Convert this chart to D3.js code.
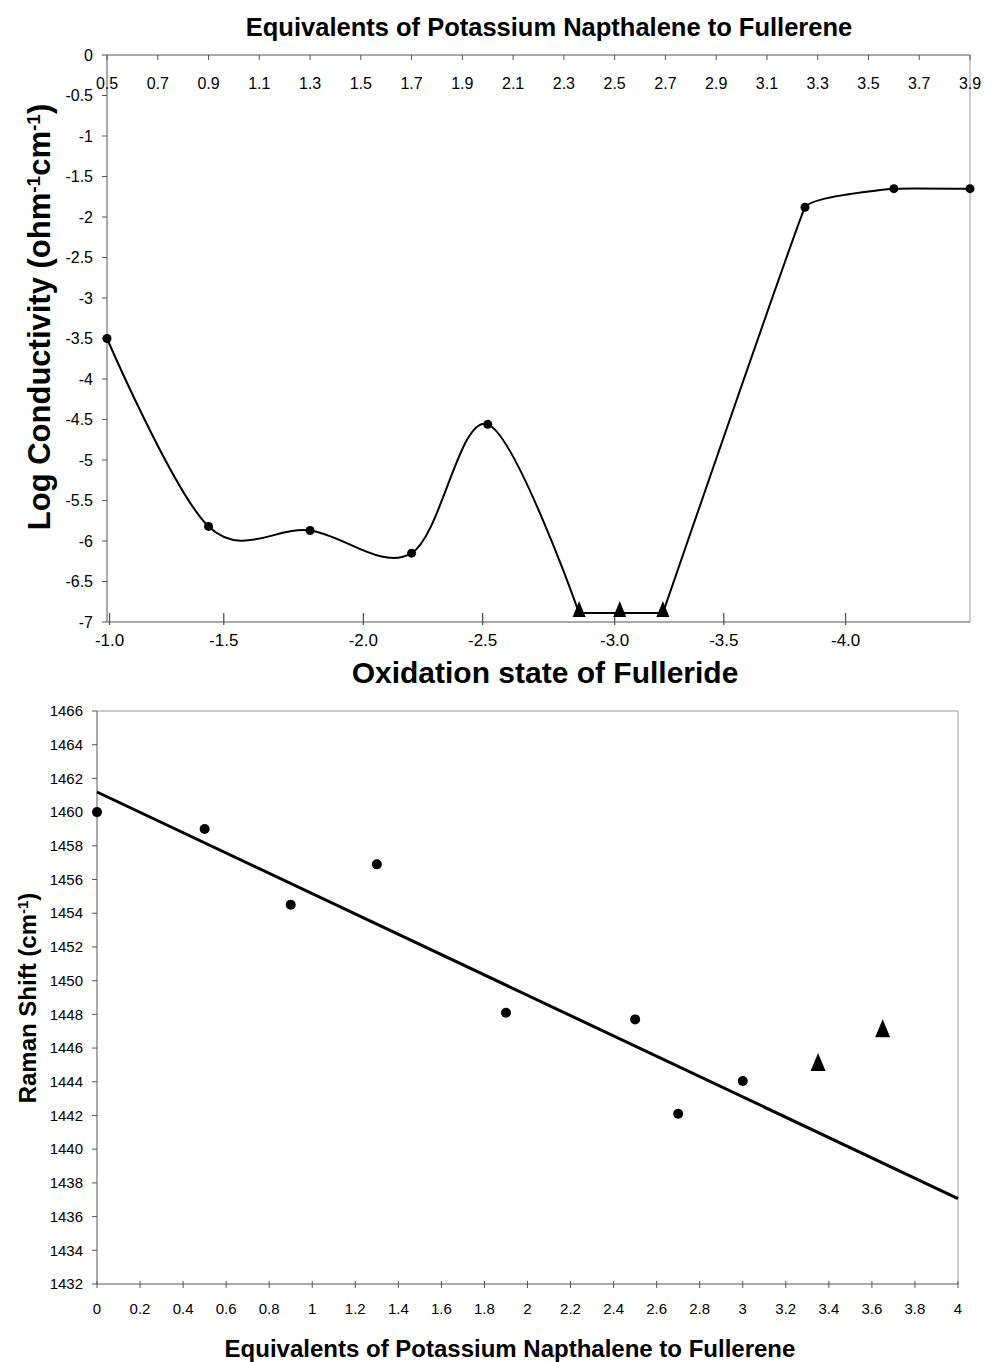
<!DOCTYPE html>
<html>
<head>
<meta charset="utf-8">
<script src="https://cdn.jsdelivr.net/npm/d3@7"></script>
<style>
  body { margin: 0; background: #fff; }
  svg { display: block; font-family: "Liberation Sans", Arial, sans-serif; }
</style>
</head>
<body>
<svg id="fig" width="985" height="1362"></svg>
<script>
// conductivity vs. equivalents (top panel)
var condEquiv = [0.5, 0.9, 1.3, 1.7, 2.0, 2.36, 2.52, 2.69, 3.25, 3.6, 3.9];
var condLog = [-3.5, -5.82, -5.87, -6.15, -4.56, -6.89, -6.89, -6.89, -1.88, -1.65, -1.65];
var condShape = ["c", "c", "c", "c", "c", "t", "t", "t", "c", "c", "c"];
var equivTicks = [0.5, 0.7, 0.9, 1.1, 1.3, 1.5, 1.7, 1.9, 2.1, 2.3, 2.5, 2.7, 2.9, 3.1, 3.3, 3.5, 3.7, 3.9];
var logTicks = [0, -0.5, -1, -1.5, -2, -2.5, -3, -3.5, -4, -4.5, -5, -5.5, -6, -6.5, -7];
// oxidation state labels and where they sit on the equivalents axis
var oxLabels = ["-1.0", "-1.5", "-2.0", "-2.5", "-3.0", "-3.5", "-4.0"];
var oxAtEquiv = [0.51, 0.96, 1.51, 1.98, 2.5, 2.93, 3.41];

// raman shift (bottom panel)
var ramanEquiv = [0, 0.5, 0.9, 1.3, 1.9, 2.5, 2.7, 3.0];
var ramanShift = [1460, 1459, 1454.5, 1456.9, 1448.1, 1447.7, 1442.1, 1444.05];
var ramanTriEquiv = [3.35, 3.65];
var ramanTriShift = [1445.0, 1447.0];
var ramanXTicks = [0, 0.2, 0.4, 0.6, 0.8, 1, 1.2, 1.4, 1.6, 1.8, 2, 2.2, 2.4, 2.6, 2.8, 3, 3.2, 3.4, 3.6, 3.8, 4];
var ramanYTicks = [1432, 1434, 1436, 1438, 1440, 1442, 1444, 1446, 1448, 1450, 1452, 1454, 1456, 1458, 1460, 1462, 1464, 1466];

var svg = d3.select("#fig");
var axisColor = "#555";
var borderColor = "#999";

// ---------- top panel ----------
var x1 = d3.scaleLinear().domain([0.5, 3.9]).range([107, 970]);
var y1 = d3.scaleLinear().domain([-7, 0]).range([622, 55]);

var topPanel = svg.append("g").attr("class", "top-panel");

// right border
topPanel.append("line")
  .attr("x1", x1(3.9)).attr("x2", x1(3.9))
  .attr("y1", y1(0)).attr("y2", y1(-7))
  .attr("stroke", borderColor).attr("stroke-width", 1);

// left axis
topPanel.append("line")
  .attr("x1", x1(0.5)).attr("x2", x1(0.5))
  .attr("y1", y1(0)).attr("y2", y1(-7))
  .attr("stroke", axisColor).attr("stroke-width", 1);

topPanel.selectAll(".ytick").data(logTicks).enter().append("line")
  .attr("x1", x1(0.5) - 5).attr("x2", x1(0.5))
  .attr("y1", function(d) { return y1(d); })
  .attr("y2", function(d) { return y1(d); })
  .attr("stroke", axisColor);

topPanel.selectAll(".ylab").data(logTicks).enter().append("text")
  .attr("x", x1(0.5) - 14)
  .attr("y", function(d) { return y1(d); })
  .attr("dy", "0.35em")
  .attr("text-anchor", "end")
  .style("font-size", "16px")
  .text(function(d) { return String(d); });

// top (equivalents) axis
topPanel.append("line")
  .attr("x1", x1(0.5)).attr("x2", x1(3.9))
  .attr("y1", y1(0)).attr("y2", y1(0))
  .attr("stroke", axisColor);

topPanel.selectAll(".xtick").data(equivTicks).enter().append("line")
  .attr("x1", function(d) { return x1(d); })
  .attr("x2", function(d) { return x1(d); })
  .attr("y1", y1(0)).attr("y2", y1(0) + 5)
  .attr("stroke", axisColor);

topPanel.selectAll(".xlab").data(equivTicks).enter().append("text")
  .attr("x", function(d) { return x1(d); })
  .attr("y", 89)
  .attr("text-anchor", "middle")
  .style("font-size", "16px")
  .text(function(d) { return d.toFixed(1); });

// bottom (oxidation state) axis
topPanel.append("line")
  .attr("x1", x1(0.5)).attr("x2", x1(3.9))
  .attr("y1", y1(-7)).attr("y2", y1(-7))
  .attr("stroke", axisColor);

topPanel.selectAll(".oxtick").data(oxAtEquiv).enter().append("line")
  .attr("x1", function(d) { return x1(d); })
  .attr("x2", function(d) { return x1(d); })
  .attr("y1", y1(-7) - 9).attr("y2", y1(-7) + 3)
  .attr("stroke", axisColor).attr("stroke-width", 1.3);

topPanel.selectAll(".oxlab").data(oxLabels).enter().append("text")
  .attr("x", function(d, i) { return x1(oxAtEquiv[i]); })
  .attr("y", 646)
  .attr("text-anchor", "middle")
  .style("font-size", "17px")
  .text(function(d) { return d; });

// conductivity line: smooth through circles, straight across triangles
var condPts = condEquiv.map(function(e, i) {
  return { x: e, y: condLog[i], shape: condShape[i] };
});

var lineSmooth = d3.line()
  .x(function(d) { return x1(d.x); })
  .y(function(d) { return y1(d.y); })
  .curve(d3.curveCardinal.tension(0));

var lineFlat = d3.line()
  .x(function(d) { return x1(d.x); })
  .y(function(d) { return y1(d.y); });

var lineRight = d3.line()
  .x(function(d) { return x1(d.x); })
  .y(function(d) { return y1(d.y); })
  .curve(d3.curveCardinal.tension(0.85));

topPanel.append("path")
  .attr("d", lineSmooth(condPts.slice(0, 6)))
  .attr("fill", "none").attr("stroke", "#000").attr("stroke-width", 2);
topPanel.append("path")
  .attr("d", lineFlat(condPts.slice(5, 8)))
  .attr("fill", "none").attr("stroke", "#000").attr("stroke-width", 2);
topPanel.append("path")
  .attr("d", lineRight(condPts.slice(7)))
  .attr("fill", "none").attr("stroke", "#000").attr("stroke-width", 2);

topPanel.selectAll(".cdot").data(condPts.filter(function(d) { return d.shape === "c"; }))
  .enter().append("circle")
  .attr("cx", function(d) { return x1(d.x); })
  .attr("cy", function(d) { return y1(d.y); })
  .attr("r", 4.5)
  .attr("fill", "#000");

topPanel.selectAll(".ctri").data(condPts.filter(function(d) { return d.shape === "t"; }))
  .enter().append("path")
  .attr("transform", function(d) { return "translate(" + x1(d.x) + "," + y1(d.y) + ")"; })
  .attr("d", "M0,-12L6.5,4L-6.5,4Z")
  .attr("fill", "#000");

// titles
topPanel.append("text")
  .attr("x", 549).attr("y", 36)
  .attr("text-anchor", "middle")
  .style("font-size", "25.5px").style("font-weight", "bold")
  .text("Equivalents of Potassium Napthalene to Fullerene");

topPanel.append("text")
  .attr("x", 545).attr("y", 683)
  .attr("text-anchor", "middle")
  .style("font-size", "30px").style("font-weight", "bold")
  .text("Oxidation state of Fulleride");

var ylab1 = topPanel.append("text")
  .attr("transform", "translate(50,317) rotate(-90)")
  .attr("text-anchor", "middle")
  .style("font-size", "31px").style("font-weight", "bold");
ylab1.append("tspan").text("Log Conductivity (ohm");
ylab1.append("tspan").attr("baseline-shift", "super").style("font-size", "19px").text("-1");
ylab1.append("tspan").text("cm");
ylab1.append("tspan").attr("baseline-shift", "super").style("font-size", "19px").text("-1");
ylab1.append("tspan").text(")");

// ---------- bottom panel ----------
var x2 = d3.scaleLinear().domain([0, 4]).range([97, 958]);
var y2 = d3.scaleLinear().domain([1432, 1466]).range([1284, 711]);

var botPanel = svg.append("g").attr("class", "bottom-panel");

// top and right border
botPanel.append("line")
  .attr("x1", x2(0)).attr("x2", x2(4))
  .attr("y1", y2(1466)).attr("y2", y2(1466))
  .attr("stroke", borderColor);
botPanel.append("line")
  .attr("x1", x2(4)).attr("x2", x2(4))
  .attr("y1", y2(1466)).attr("y2", y2(1432))
  .attr("stroke", borderColor);

// y axis
botPanel.append("line")
  .attr("x1", x2(0)).attr("x2", x2(0))
  .attr("y1", y2(1466)).attr("y2", y2(1432))
  .attr("stroke", axisColor);

botPanel.selectAll(".ytick").data(ramanYTicks).enter().append("line")
  .attr("x1", x2(0) - 5).attr("x2", x2(0))
  .attr("y1", function(d) { return y2(d); })
  .attr("y2", function(d) { return y2(d); })
  .attr("stroke", axisColor);

botPanel.selectAll(".ylab").data(ramanYTicks).enter().append("text")
  .attr("x", 83)
  .attr("y", function(d) { return y2(d); })
  .attr("dy", "0.35em")
  .attr("text-anchor", "end")
  .style("font-size", "15px")
  .text(function(d) { return d; });

// x axis
botPanel.append("line")
  .attr("x1", x2(0)).attr("x2", x2(4))
  .attr("y1", y2(1432)).attr("y2", y2(1432))
  .attr("stroke", axisColor);

botPanel.selectAll(".xtick").data(ramanXTicks).enter().append("line")
  .attr("x1", function(d) { return x2(d); })
  .attr("x2", function(d) { return x2(d); })
  .attr("y1", y2(1432) - 3).attr("y2", y2(1432) + 4)
  .attr("stroke", axisColor);

botPanel.selectAll(".xlab").data(ramanXTicks).enter().append("text")
  .attr("x", function(d) { return x2(d); })
  .attr("y", 1314)
  .attr("text-anchor", "middle")
  .style("font-size", "15px")
  .text(function(d) { return String(+d.toFixed(1)); });

// least squares trend line through the circle points
var mx = d3.mean(ramanEquiv);
var my = d3.mean(ramanShift);
var sxy = d3.sum(ramanEquiv, function(e, i) { return (e - mx) * (ramanShift[i] - my); });
var sxx = d3.sum(ramanEquiv, function(e) { return (e - mx) * (e - mx); });
var slope = sxy / sxx;
var intercept = my - slope * mx;

botPanel.append("line")
  .attr("x1", x2(0)).attr("y1", y2(intercept))
  .attr("x2", x2(4)).attr("y2", y2(intercept + slope * 4))
  .attr("stroke", "#000").attr("stroke-width", 3);

botPanel.selectAll(".rdot").data(ramanEquiv).enter().append("circle")
  .attr("cx", function(d) { return x2(d); })
  .attr("cy", function(d, i) { return y2(ramanShift[i]); })
  .attr("r", 5)
  .attr("fill", "#000");

botPanel.selectAll(".rtri").data(ramanTriEquiv).enter().append("path")
  .attr("transform", function(d, i) { return "translate(" + x2(d) + "," + y2(ramanTriShift[i]) + ")"; })
  .attr("d", "M0,-12L7.5,6L-7.5,6Z")
  .attr("fill", "#000");

botPanel.append("text")
  .attr("x", 510).attr("y", 1357)
  .attr("text-anchor", "middle")
  .style("font-size", "24px").style("font-weight", "bold")
  .text("Equivalents of Potassium Napthalene to Fullerene");

var ylab2 = botPanel.append("text")
  .attr("transform", "translate(36,998) rotate(-90)")
  .attr("text-anchor", "middle")
  .style("font-size", "24px").style("font-weight", "bold");
ylab2.append("tspan").text("Raman Shift (cm");
ylab2.append("tspan").attr("baseline-shift", "super").style("font-size", "15px").text("-1");
ylab2.append("tspan").text(")");
</script>
</body>
</html>
